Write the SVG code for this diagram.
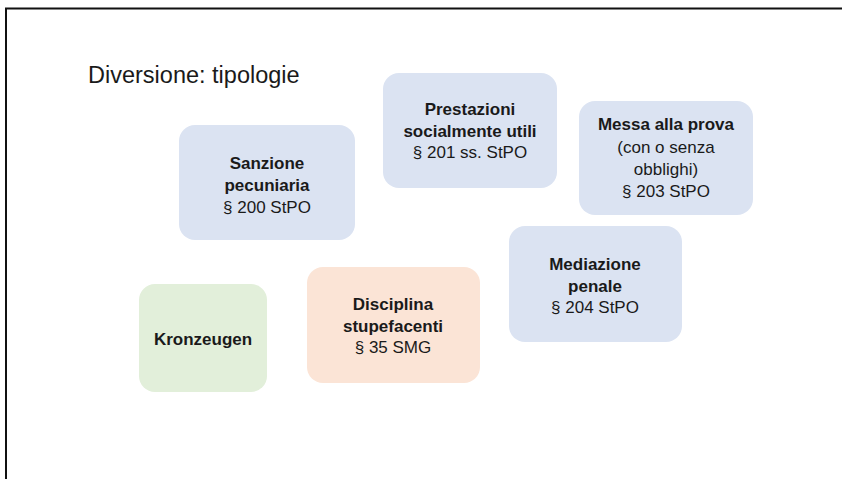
<svg xmlns="http://www.w3.org/2000/svg" width="842" height="479" viewBox="0 0 842 479">
<style>
.box{stroke:none}
.blue{fill:#dbe3f2}
.green{fill:#e2efda}
.orange{fill:#fbe4d6}
text{font-family:"Liberation Sans",Arial,sans-serif;fill:#1a1a1a;text-anchor:middle;font-size:17px}
.b{font-weight:bold}
.title{font-size:23.5px;text-anchor:start}
</style>
<rect width="842" height="479" fill="#ffffff"/>
<path d="M5,8.5 H842 M6,8 V479" stroke="#111" stroke-width="2" fill="none"/>
<text class="title" x="88" y="83">Diversione: tipologie</text>
<g id="connectors"/>
<g id="sanzione">
<rect class="box blue" x="179" y="125" width="176" height="115" rx="16"/>
<text class="b" x="267" y="169">Sanzione</text>
<text class="b" x="267" y="191">pecuniaria</text>
<text x="267" y="213">§ 200 StPO</text>
</g>
<g id="prestazioni">
<rect class="box blue" x="383" y="73" width="174" height="115" rx="16"/>
<text class="b" x="470" y="115">Prestazioni</text>
<text class="b" x="470" y="137">socialmente utili</text>
<text x="470" y="158">§ 201 ss. StPO</text>
</g>
<g id="messa">
<rect class="box blue" x="579" y="101" width="174" height="114" rx="16"/>
<text class="b" x="666" y="130">Messa alla prova</text>
<text x="666" y="153">(con o senza</text>
<text x="666" y="175">obblighi)</text>
<text x="666" y="197">§ 203 StPO</text>
</g>
<g id="mediazione">
<rect class="box blue" x="509" y="226" width="173" height="116" rx="16"/>
<text class="b" x="595" y="270">Mediazione</text>
<text class="b" x="595" y="292">penale</text>
<text x="595" y="313">§ 204 StPO</text>
</g>
<g id="kronzeugen">
<rect class="box green" x="139" y="284" width="128" height="108" rx="16"/>
<text class="b" x="203" y="345">Kronzeugen</text>
</g>
<g id="disciplina">
<rect class="box orange" x="307" y="267" width="173" height="116" rx="16"/>
<text class="b" x="393" y="310">Disciplina</text>
<text class="b" x="393" y="332">stupefacenti</text>
<text x="393" y="353">§ 35 SMG</text>
</g>
</svg>
